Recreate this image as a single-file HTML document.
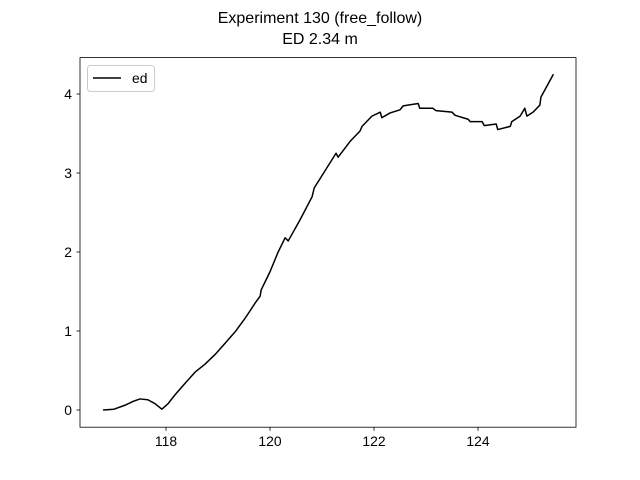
<!DOCTYPE html>
<html><head><meta charset="utf-8"><style>
body{margin:0;background:#fff}
svg{display:block;font-family:"Liberation Sans","DejaVu Sans",sans-serif}
</style></head><body>
<svg id="chart" width="640" height="480">
<text x="320" y="23" text-anchor="middle" font-size="16">Experiment 130 (free_follow)</text>
<text x="320" y="44" text-anchor="middle" font-size="16">ED 2.34 m</text>
<g id="plot"></g>
<rect x="80" y="57.6" width="496" height="369.6" fill="none" stroke="#000" stroke-width="0.8"/>
<g>
<rect x="87.5" y="65.5" width="67" height="26" rx="3" fill="#fff" stroke="#ccc"/>
<line x1="93" y1="78" x2="121" y2="78" stroke="#000" stroke-width="1.5"/>
<text x="132" y="83" font-size="13.9">ed</text>
</g>
</svg>
<script>
const xs=[116.79,117.0,117.21,117.37,117.5,117.65,117.79,117.92,118.04,118.17,118.37,118.56,118.75,118.94,119.13,119.33,119.52,119.71,119.81,119.83,120.0,120.15,120.29,120.35,120.58,120.81,120.85,121.06,121.27,121.31,121.54,121.73,121.77,121.96,122.12,122.15,122.31,122.5,122.56,122.85,122.88,123.13,123.19,123.5,123.56,123.81,123.85,124.08,124.12,124.35,124.38,124.62,124.65,124.81,124.9,124.94,125.06,125.19,125.21,125.45];
const ys=[0,0.01,0.06,0.11,0.14,0.13,0.08,0.01,0.08,0.19,0.34,0.48,0.58,0.70,0.84,0.99,1.16,1.35,1.44,1.52,1.75,1.99,2.18,2.14,2.41,2.70,2.81,3.03,3.25,3.20,3.40,3.53,3.59,3.72,3.77,3.70,3.76,3.80,3.85,3.88,3.82,3.82,3.79,3.77,3.73,3.68,3.65,3.65,3.60,3.62,3.55,3.59,3.65,3.72,3.82,3.72,3.77,3.86,3.96,4.25];
const xTicks=[118,120,122,124];
const yTicks=[0,1,2,3,4];
const X=v=>166+(v-118)*52;
const Y=v=>410-v*79;
const NS="http://www.w3.org/2000/svg";
const g=document.getElementById('plot');
function mk(t,a){const e=document.createElementNS(NS,t);for(const k in a)e.setAttribute(k,a[k]);g.appendChild(e);return e;}
xTicks.forEach(t=>{
 const l=mk('line',{x1:X(t),x2:X(t),y1:427.2,y2:430.7,stroke:'#000','stroke-width':0.8});
 
 
 const s=mk('text',{x:X(t),y:446,'text-anchor':'middle','font-size':13.9});s.textContent=t;
 
 
});
yTicks.forEach(t=>{
 const l=mk('line',{x1:76.5,x2:80,y1:Y(t),y2:Y(t),stroke:'#000','stroke-width':0.8});
 
 
 const s=mk('text',{x:72,y:Y(t)+5,'text-anchor':'end','font-size':13.9});s.textContent=t;
 
 
});
const p=mk('polyline',{points:xs.map((x,i)=>X(x)+','+Y(ys[i])).join(' '),fill:'none',stroke:'#000','stroke-width':1.5,'stroke-linejoin':'round'});


</script>
</body></html>
